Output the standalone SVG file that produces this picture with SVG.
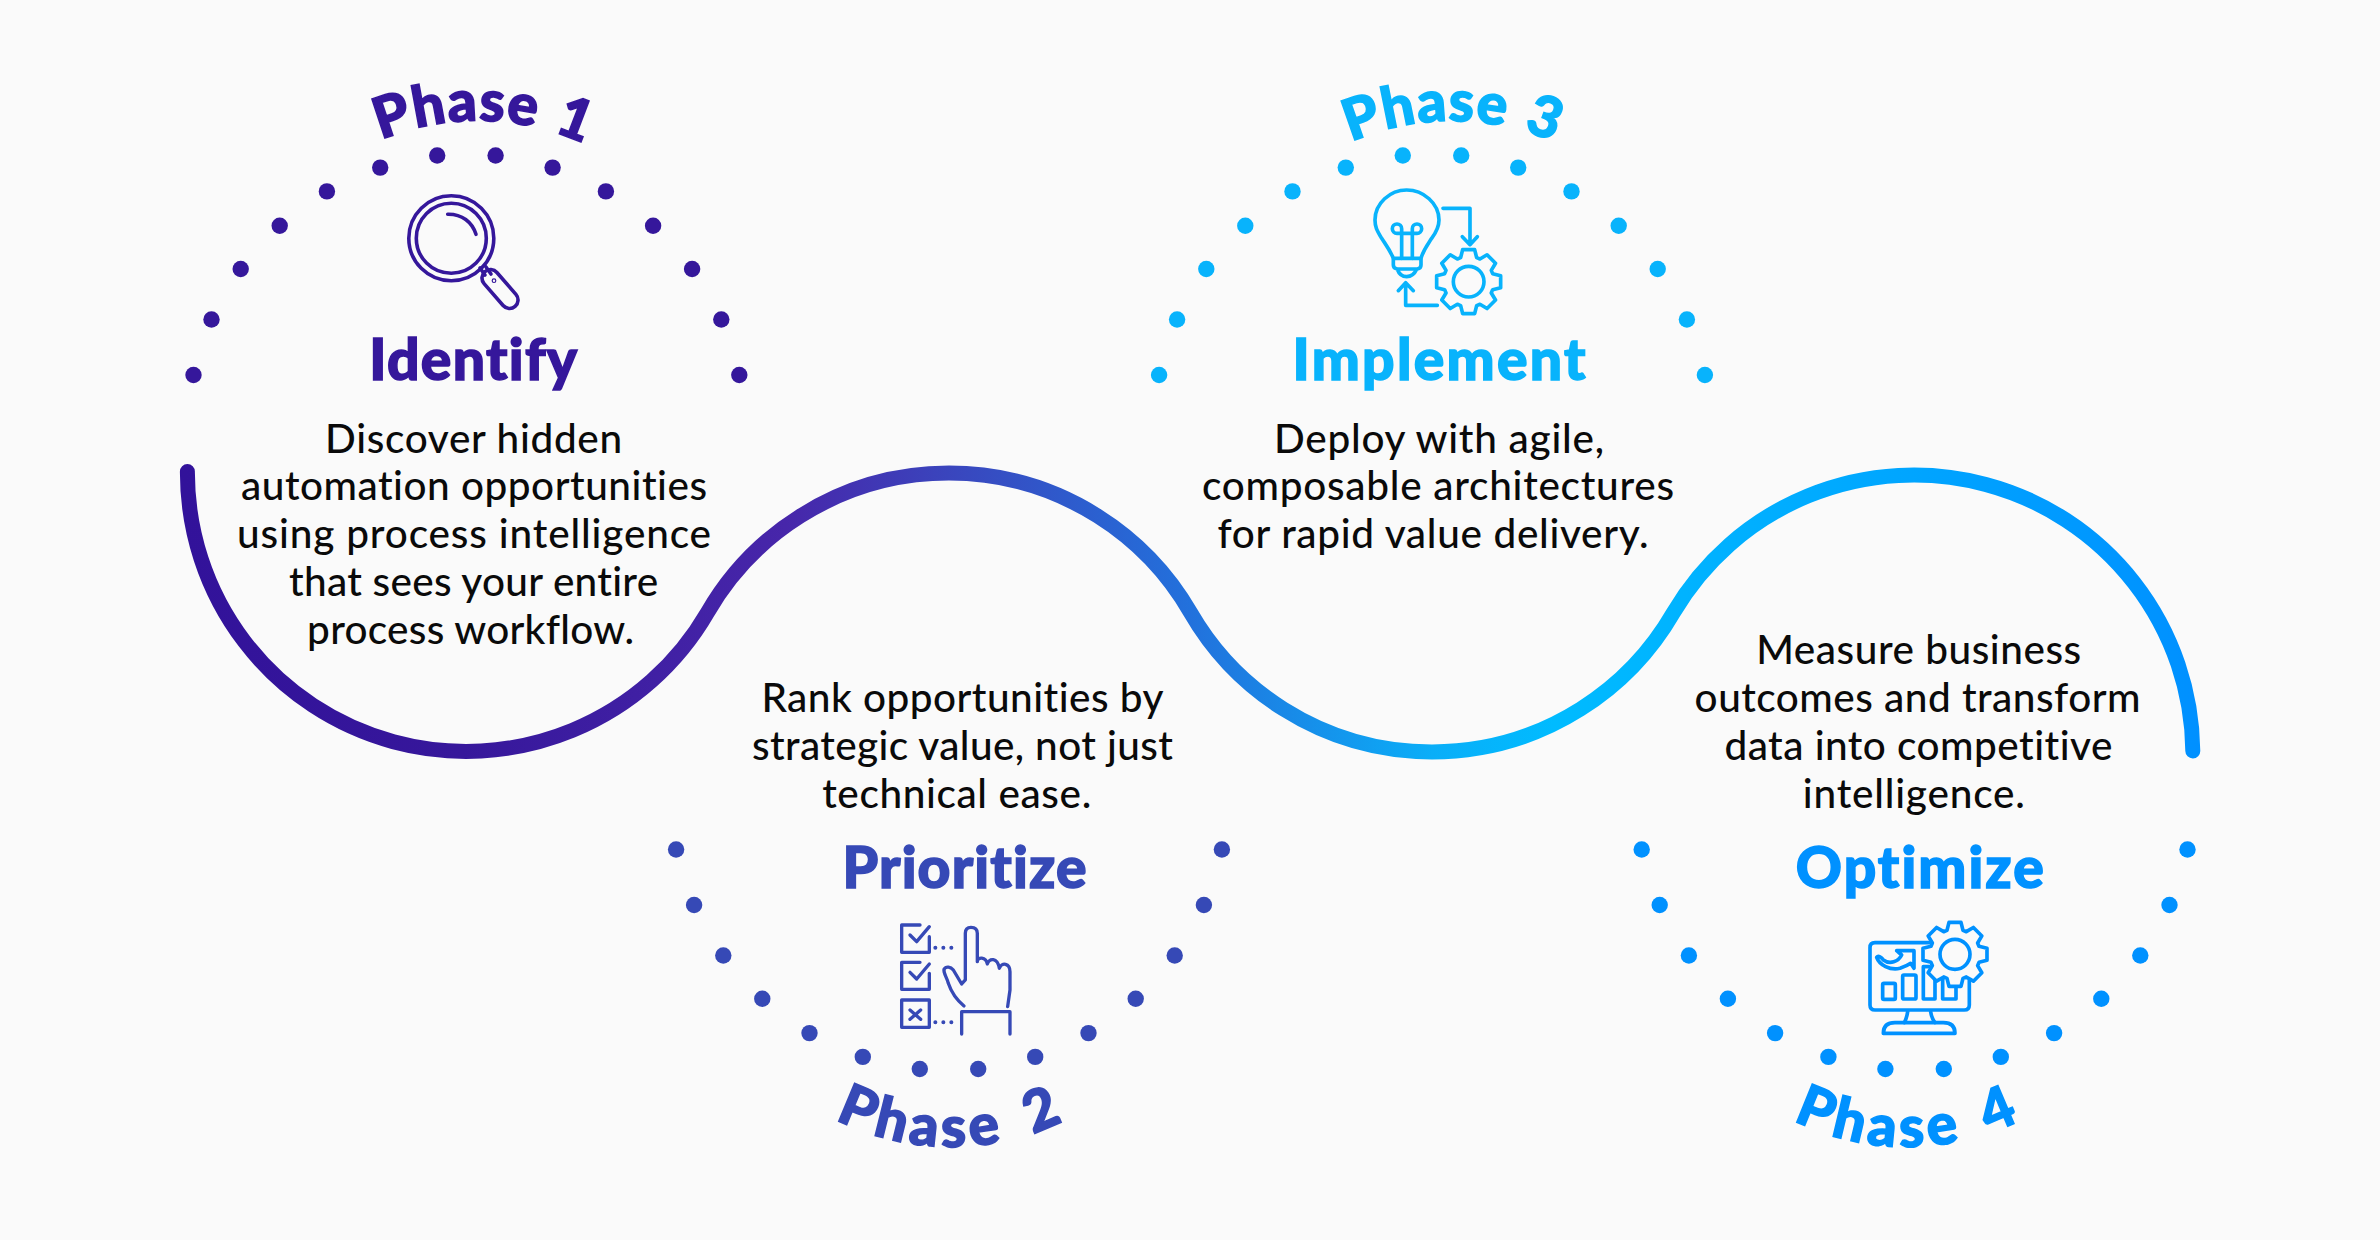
<svg xmlns="http://www.w3.org/2000/svg" xmlns:xlink="http://www.w3.org/1999/xlink" width="2380" height="1240" viewBox="0 0 2380 1240">
<style>
text{font-variant-ligatures:none}
.body{font-family:Lato,"Liberation Sans",sans-serif;font-size:40.5px;font-weight:500;fill:#0a0a0a;text-anchor:middle}
.title{font-family:Lato,"Liberation Sans",sans-serif;font-size:57px;font-weight:900;text-anchor:middle;stroke-width:1.5}
.phase{font-family:Lato,"Liberation Sans",sans-serif;font-size:57px;font-weight:900;stroke-width:1.5}
.icon{fill:none;stroke-linecap:round;stroke-linejoin:round}
.p1{fill:#35179b}.p2{fill:#3649b6}.p3{fill:#08b3fc}.p4{fill:#0091ff}
.s1{stroke:#35179b}.s2{stroke:#3649b6}.s3{stroke:#08b3fc}.s4{stroke:#0091ff}
</style>
<defs>
<linearGradient id="wave" gradientUnits="userSpaceOnUse" x1="180" y1="0" x2="2200" y2="0">
<stop offset="0" stop-color="#32129a"/><stop offset="0.14" stop-color="#36179b"/><stop offset="0.3" stop-color="#4726aa"/><stop offset="0.38" stop-color="#3a45bd"/><stop offset="0.5" stop-color="#2271dc"/><stop offset="0.62" stop-color="#0aaef8"/><stop offset="0.68" stop-color="#00bbff"/><stop offset="0.85" stop-color="#00a6ff"/><stop offset="1" stop-color="#0090ff"/>
</linearGradient>
<g id="dots">
<circle cx="-272.9" cy="-58" r="8.2"/><circle cx="-254.9" cy="-113.5" r="8.2"/><circle cx="-225.7" cy="-164" r="8.2"/><circle cx="-186.7" cy="-207.3" r="8.2"/><circle cx="-139.5" cy="-241.6" r="8.2"/><circle cx="-86.2" cy="-265.4" r="8.2"/><circle cx="-29.2" cy="-277.5" r="8.2"/>
<circle cx="29.2" cy="-277.5" r="8.2"/><circle cx="86.2" cy="-265.4" r="8.2"/><circle cx="139.5" cy="-241.6" r="8.2"/><circle cx="186.7" cy="-207.3" r="8.2"/><circle cx="225.7" cy="-164" r="8.2"/><circle cx="254.9" cy="-113.5" r="8.2"/><circle cx="272.9" cy="-58" r="8.2"/>
</g>
<path id="gear" d="M-24 -72L-18 -96H18L24 -72L33.9 -67.9L55.2 -80.6L80.6 -55.2L67.9 -33.9L72 -24L96 -18V18L72 24L67.9 33.9L80.6 55.2L55.2 80.6L33.9 67.9L24 72L18 96H-18L-24 72L-33.9 67.9L-55.2 80.6L-80.6 55.2L-67.9 33.9L-72 24L-96 18V-18L-72 -24L-67.9 -33.9L-80.6 -55.2L-55.2 -80.6L-33.9 -67.9Z"/>
<path id="arc1" d="M381 140A255 255 0 0 1 658 195"/>
<path id="arc2" d="M835 1119A255 255 0 0 0 1131 1072.6"/>
<path id="arc3" d="M1351 142A255 255 0 0 1 1632 195"/>
<path id="arc4" d="M1793 1120A255 255 0 0 0 2087 1072.6"/>
</defs>
<rect width="2380" height="1240" fill="#fafafa"/>
<g id="connectors">
<path d="M187.4 471.5A278.9 278.9 0 0 0 707.5 612.5A278.9 278.9 0 0 1 1190.5 612.5A278.9 278.9 0 0 0 1673.5 612.5A278.9 278.9 0 0 1 2192.8 751" fill="none" stroke="url(#wave)" stroke-width="15" stroke-linecap="round"/>
</g>
<g id="phase-1">
<use href="#dots" class="p1" transform="translate(466.4 433)"/>
<text class="phase p1 s1" letter-spacing="1" word-spacing="3"><textPath href="#arc1">Phase 1</textPath></text>
<g class="icon s1" stroke-width="3.6">
<circle cx="451.3" cy="238.3" r="42.5"/><circle cx="451.3" cy="238.3" r="35"/>
<path d="M447.7 214.3C462 214 472 222 476 234.3"/>
<path d="M480 268L485 275M486 267L491 274"/>
<rect x="-23" y="-8.5" width="46" height="17" rx="8.5" transform="translate(500 289) rotate(49)"/>
<circle cx="494" cy="280.7" r="0.6"/>
</g>
<text class="title p1 s1" x="473.2" y="380" textLength="208">Identify</text>
<text class="body" x="473.6" y="452.5" textLength="297">Discover hidden</text>
<text class="body" x="474" y="500.3" textLength="466">automation opportunities</text>
<text class="body" x="474" y="548.3" textLength="474">using process intelligence</text>
<text class="body" x="473.6" y="596.3" textLength="369">that sees your entire</text>
<text class="body" x="470.6" y="644.1" textLength="327">process workflow.</text>
</g>
<g id="phase-2">
<use href="#dots" class="p2" transform="translate(949 791.5) scale(1 -1)"/>
<text class="phase p2 s2" letter-spacing="4.5" word-spacing="10"><textPath href="#arc2">Phase 2</textPath></text>
<text class="title p2 s2" x="964.5" y="888" textLength="244">Prioritize</text>
<g class="icon s2" transform="translate(860 760) scale(.3333)" style="stroke-width:10">
<path d="M180 495H125V577H208V530M150 525L170 545L208 500"/>
<path d="M180 607H125V688H208V640M150 637L170 657L208 612"/>
<rect x="125" y="720" width="83" height="82"/>
<path d="M150 750L182 778M182 750L150 778"/>
<path d="M226 563h.1M250 563h.1M274 563h.1M226 787h.1M250 787h.1M274 787h.1" style="stroke-width:12"/>
<path d="M312 738C290 720 275 700 265 670C260 650 250 640 252 628C258 618 272 620 280 630L305 672L316 660V520Q316 502 333 502Q352 502 352 520V605C352 590 378 590 382 612C388 595 412 590 418 625C425 605 450 610 450 635V690L443 740"/>
<path d="M305 822V755H450V822"/>
</g>
<text class="body" x="962.4" y="711.8" textLength="402">Rank opportunities by</text>
<text class="body" x="962.4" y="760.1" textLength="421">strategic value, not just</text>
<text class="body" x="956.7" y="808.1" textLength="269">technical ease.</text>
</g>
<g id="phase-3">
<use href="#dots" class="p3" transform="translate(1432 433)"/>
<text class="phase p3 s3" letter-spacing="1" word-spacing="3"><textPath href="#arc3">Phase 3</textPath></text>
<g class="icon s3" transform="translate(1340 170) scale(.3333)" style="stroke-width:11">
<path d="M160 265C150 240 140 228 125 205C110 180 105 170 105 150C105 100 150 60 200 60C250 60 297 100 297 150C297 170 290 185 275 205C260 228 250 240 243 265Z"/>
<path d="M160 268V285Q160 295 172 297H232Q243 295 243 285V268M172 298Q180 320 200 320Q220 320 230 298"/>
<path d="M185 265V176A14 14 0 1 0 171 190H231A14 14 0 1 0 217 176V265"/>
<path d="M309 115H390V220M367 200L390 224L412 200"/>
<path d="M292 406H197V340M175 362L197 338L220 362"/>
<use href="#gear" transform="translate(386 335)"/>
<circle cx="386" cy="335" r="46"/>
</g>
<text class="title p3 s3" x="1439" y="380" textLength="293">Implement</text>
<text class="body" x="1439" y="452.5" textLength="330">Deploy with agile,</text>
<text class="body" x="1438" y="500.3" textLength="472">composable architectures</text>
<text class="body" x="1433" y="548.3" textLength="431">for rapid value delivery.</text>
</g>
<g id="phase-4">
<use href="#dots" class="p4" transform="translate(1914.6 791.5) scale(1 -1)"/>
<text class="phase p4 s4" letter-spacing="4.5" word-spacing="8"><textPath href="#arc4">Phase 4</textPath></text>
<text class="title p4 s4" x="1919.8" y="888" textLength="248">Optimize</text>
<g class="icon s4" transform="translate(1840 900) scale(.3333)" style="stroke-width:11">
<path d="M268 128H105Q90 128 90 143V315Q90 330 105 330H373Q388 330 388 315V225"/>
<path d="M203 335Q200 355 193 368M272 335Q275 355 285 368"/>
<path d="M130 400Q130 368 165 368H310Q345 368 345 400Z"/>
<rect x="128" y="250" width="38" height="48" rx="4"/><rect x="188" y="225" width="40" height="72" rx="4"/>
<path d="M268 200H250V297H285V232M308 232V297H348V250"/>
<path d="M110 172C118 195 150 212 180 205C195 200 205 195 212 190L222 205V152H170L185 165C175 185 150 195 130 180C125 172 115 165 110 172Z"/>
<use href="#gear" fill="#fafafa" transform="translate(345 163)"/>
<circle cx="345" cy="163" r="45"/>
</g>
<text class="body" x="1918.7" y="664.1" textLength="325">Measure business</text>
<text class="body" x="1917.6" y="712.3" textLength="446">outcomes and transform</text>
<text class="body" x="1918.4" y="760.1" textLength="388">data into competitive</text>
<text class="body" x="1913.8" y="808.1" textLength="222">intelligence.</text>
</g>
</svg>
